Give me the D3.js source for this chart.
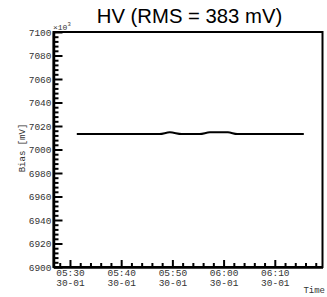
<!DOCTYPE html>
<html>
<head>
<meta charset="utf-8">
<script src="https://cdn.jsdelivr.net/npm/d3@7"></script>
<style>
    body { margin: 0; background: #fff; }
    svg { display: block; }
    .tick text { font-family: "Liberation Mono", "DejaVu Sans Mono", monospace; font-size: 9.5px; fill: #333; }
    .mono { font-family: "Liberation Mono", "DejaVu Sans Mono", monospace; fill: #333; }
</style>
</head>
<body>
<div id="chart"></div>
<script>
// data
const times = ['05:31:20', '05:35:00', '05:40:00', '05:45:00', '05:47:30', '05:49:30', '05:51:50',
               '05:55:20', '05:57:20', '06:00:50', '06:02:40', '06:05:00', '06:10:00', '06:15:40'];
const values = [7013.2, 7013.2, 7013.2, 7013.2, 7013.2, 7014.6, 7013.2,
                7013.2, 7014.6, 7014.6, 7013.2, 7013.2, 7013.2, 7013.2];
const yTicks = [6900, 6920, 6940, 6960, 6980, 7000, 7020, 7040, 7060, 7080, 7100];
const xTickLabels = ['05:30', '05:40', '05:50', '06:00', '06:10'];
const dateLabel = '30-01';
const title = 'HV (RMS = 383 mV)';

const W = 327, H = 297;
let margin = { top: 32, right: 4.5, bottom: 30, left: 53.5 },
    width = W - margin.left - margin.right,
    height = H - margin.top - margin.bottom;

const parse = d3.timeParse('%H:%M:%S');
const data = times.map((t, i) => ({ t: parse(t), v: values[i] }));

let xScale = d3.scaleTime()
    .domain([parse('05:26:47'), parse('06:19:19')])
    .range([0, width]);

let yScale = d3.scaleLinear()
    .domain([6900, 7100])
    .range([height, 0]);

let svg = d3.select('#chart')
    .append('svg')
    .attr('width', W)
    .attr('height', H);

svg.append('text')
    .attr('x', 189.5)
    .attr('y', 22.5)
    .attr('text-anchor', 'middle')
    .style('font-family', 'Liberation Sans, Arial, sans-serif')
    .style('font-size', '20.3px')
    .text(title);

let g = svg.append('g')
    .attr('transform', `translate(${margin.left},${margin.top})`);

// frame
g.append('rect')
    .attr('width', width)
    .attr('height', height)
    .attr('fill', 'none')
    .attr('stroke', '#000')
    .attr('stroke-width', 2);

// y minor ticks
let yMinor = d3.range(6900, 7100.1, 4).filter(v => v % 20 !== 0);
g.append('g')
    .call(d3.axisLeft(yScale).tickValues(yMinor).tickSize(-5).tickFormat(''))
    .call(a => a.select('.domain').remove())
    .selectAll('line').attr('stroke-width', 2);

// y major ticks
let yAxis = g.append('g')
    .call(d3.axisLeft(yScale).tickValues(yTicks).tickSizeInner(-9).tickSizeOuter(0).tickPadding(2).tickFormat(d3.format('d')));
yAxis.select('.domain').attr('stroke-width', 2.5);
yAxis.selectAll('line').attr('stroke-width', 2);
yAxis.selectAll('text').attr('dy', '0.35em');

// x minor ticks
let xMinor = d3.timeMinute.every(2).range(parse('05:28:00'), parse('06:19:00'))
    .filter(d => d.getMinutes() % 10 !== 0);
g.append('g')
    .attr('transform', `translate(0,${height})`)
    .call(d3.axisBottom(xScale).tickValues(xMinor).tickSize(-4).tickFormat(''))
    .call(a => a.select('.domain').remove())
    .selectAll('line').attr('stroke-width', 2);

// x major ticks
let xMajor = xTickLabels.map(s => parse(s + ':00'));
let xAxis = g.append('g')
    .attr('transform', `translate(0,${height})`)
    .call(d3.axisBottom(xScale).tickValues(xMajor).tickSizeInner(-7).tickSizeOuter(0).tickFormat(''));
xAxis.select('.domain').attr('stroke-width', 2.5);
xAxis.selectAll('line').attr('stroke-width', 2);
xAxis.selectAll('.tick').each(function (d, i) {
    let t = d3.select(this).append('text')
        .attr('text-anchor', 'middle')
        .attr('y', 9);
    t.append('tspan').attr('x', 0).text(xTickLabels[i]);
    t.append('tspan').attr('x', 0).attr('dy', 9.5).text(dateLabel);
});

// exponent
let ex = svg.append('text')
    .attr('class', 'mono')
    .attr('x', 53)
    .attr('y', 30)
    .style('font-size', '8px');
ex.append('tspan').text('\u00d710');
ex.append('tspan').attr('dy', -4).style('font-size', '5.5px').text('3');

// axis titles
svg.append('text')
    .attr('class', 'mono')
    .attr('transform', 'translate(25,148) rotate(-90)')
    .attr('text-anchor', 'middle')
    .style('font-size', '9px')
    .text('Bias [mV]');

svg.append('text')
    .attr('class', 'mono')
    .attr('x', 325)
    .attr('y', 293)
    .attr('text-anchor', 'end')
    .style('font-size', '9px')
    .text('Time');

// the series
let line = d3.line()
    .x(d => xScale(d.t))
    .y(d => yScale(d.v))
    .curve(d3.curveMonotoneX);

g.append('path')
    .datum(data)
    .attr('fill', 'none')
    .attr('stroke', '#000')
    .attr('stroke-width', 2)
    .attr('d', line);
</script>
</body>
</html>
